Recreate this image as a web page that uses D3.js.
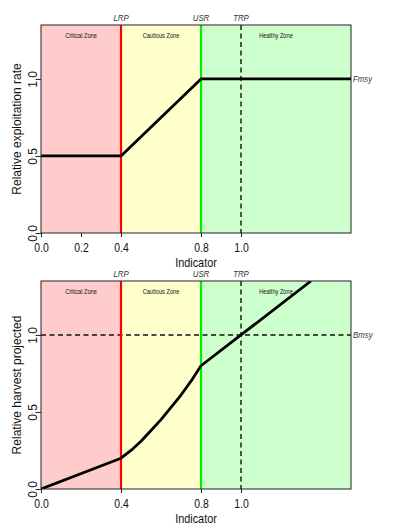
<!DOCTYPE html>
<html>
<head>
<meta charset="utf-8">
<script src="https://cdn.jsdelivr.net/npm/d3@7"></script>
<style>
  body { margin: 0; background: #fff; }
  text { font-family: "Liberation Sans", Arial, sans-serif; }
</style>
</head>
<body>
<script>
// Zones along the indicator axis
const zoneNames = ["Critical Zone", "Cautious Zone", "Healthy Zone"];
const zoneStart = [0, 0.4, 0.8];
const zoneEnd = [0.4, 0.8, 1.55];
const zoneColors = ["#ffcccc", "#ffffcc", "#ccffcc"];

// Reference points
const refNames = ["LRP", "USR", "TRP"];
const refValues = [0.4, 0.8, 1.0];

// Harvest control rule (top panel)
const exploitX = [0, 0.4, 0.8, 1.55];
const exploitY = [0.5, 0.5, 1.0, 1.0];

// Projected harvest (bottom panel)
const harvestX = [0, 0.4, 0.45, 0.5, 0.55, 0.6, 0.65, 0.7, 0.75, 0.8, 1.0, 1.35];
const harvestY = [0, 0.2, 0.25, 0.31, 0.38, 0.45, 0.53, 0.61, 0.7, 0.8, 1.0, 1.35];

// Tick labels
const topXTicks = [0, 0.2, 0.4, 0.8, 1.0];
const bottomXTicks = [0, 0.4, 0.8, 1.0];
const yTicks = [0, 0.5, 1.0];

const width = 413, height = 526;
const svg = d3.select("body").append("svg")
    .attr("width", width)
    .attr("height", height);

const fmt = d3.format(".1f");
const squeeze = 0.87;  // the original's text is a little narrow

function drawPanel(top, opts) {
    const left = 41, right = 351, plotH = 208;
    const x = d3.scaleLinear().domain([0, 1.55]).range([left, right]);
    const y = d3.scaleLinear().domain([0, 1.35]).range([top + plotH, top]);

    const g = svg.append("g");
    const clipId = "clip" + opts.id;
    svg.append("clipPath").attr("id", clipId)
      .append("rect")
        .attr("x", left).attr("y", top)
        .attr("width", right - left).attr("height", plotH);

    // narrow horizontal text placed at (px, py)
    function label(px, py, txt, size, anchor, italic) {
        return g.append("text")
          .attr("transform", `translate(${px},${py}) scale(${squeeze},1)`)
          .attr("text-anchor", anchor)
          .style("font-size", size + "px")
          .style("font-style", italic ? "italic" : "normal")
          .style("fill", italic ? "#333" : "#111")
          .text(txt);
    }

    // zone backgrounds
    g.selectAll(".zone")
      .data(zoneNames)
      .enter().append("rect")
        .attr("x", (d, i) => x(zoneStart[i]))
        .attr("y", top)
        .attr("width", (d, i) => x(zoneEnd[i]) - x(zoneStart[i]))
        .attr("height", plotH)
        .attr("fill", (d, i) => zoneColors[i]);

    // zone labels
    const zoneLabelX = [0.2, 0.6, 1.175];
    zoneNames.forEach((d, i) => label(x(zoneLabelX[i]), top + 13, d, 6.5, "middle", false));

    // horizontal reference (Bmsy) if any
    if (opts.hLine) {
        g.append("line")
          .attr("x1", left).attr("x2", right)
          .attr("y1", y(1)).attr("y2", y(1))
          .attr("stroke", "#111")
          .attr("stroke-width", 1.4)
          .attr("stroke-dasharray", "5,3.5");
    }

    // reference point lines
    const refColors = ["#ff0000", "#00ee00", "#111"];
    g.selectAll(".ref")
      .data(refValues)
      .enter().append("line")
        .attr("x1", d => x(d)).attr("x2", d => x(d))
        .attr("y1", top).attr("y2", top + plotH)
        .attr("stroke", (d, i) => refColors[i])
        .attr("stroke-width", (d, i) => i < 2 ? 2.2 : 1.4)
        .attr("stroke-dasharray", (d, i) => i < 2 ? null : "5,3.5");

    refNames.forEach((d, i) => label(x(refValues[i]), top - 4, d, 9, "middle", true));

    // the curve
    const line = d3.line()
        .x(d => x(d[0]))
        .y(d => y(d[1]));
    g.append("path")
      .datum(opts.xs.map((v, i) => [v, opts.ys[i]]))
      .attr("clip-path", `url(#${clipId})`)
      .attr("d", line)
      .attr("fill", "none")
      .attr("stroke", "#000")
      .attr("stroke-width", 2.8)
      .attr("stroke-linejoin", "round");

    // right-hand label
    label(right + 2, y(1) + 3, opts.rightLabel, 9, "start", true);

    // box
    g.append("rect")
      .attr("x", left).attr("y", top)
      .attr("width", right - left).attr("height", plotH)
      .attr("fill", "none")
      .attr("stroke", "#222")
      .attr("stroke-width", 1);

    // x axis
    const xAxis = g.append("g")
      .attr("transform", `translate(0,${top + plotH})`)
      .call(d3.axisBottom(x).tickValues(opts.xTicks).tickFormat(fmt).tickSize(4).tickPadding(6));
    xAxis.select(".domain").remove();
    xAxis.selectAll("text")
      .attr("transform", `scale(${squeeze},1)`)
      .style("font-family", "Liberation Sans, Arial, sans-serif")
      .style("font-size", "12px")
      .style("fill", "#111");
    xAxis.selectAll("line").attr("stroke", "#222");

    // y axis
    const yAxis = g.append("g")
      .attr("transform", `translate(${left},0)`)
      .call(d3.axisLeft(y).tickValues(yTicks).tickFormat(fmt).tickSize(4));
    yAxis.select(".domain").remove();
    yAxis.selectAll("line").attr("stroke", "#222");
    yAxis.selectAll("text")
      .attr("x", null).attr("dy", null)
      .attr("text-anchor", "middle")
      .attr("transform", "translate(-4,0) rotate(-90)")
      .style("font-family", "Liberation Sans, Arial, sans-serif")
      .style("font-size", "12px")
      .style("fill", "#111");

    // axis titles
    label((left + right) / 2, top + plotH + 34, "Indicator", 12.5, "middle", false);

    g.append("text")
      .attr("transform", `translate(21,${top + plotH / 2}) rotate(-90)`)
      .attr("text-anchor", "middle")
      .style("font-size", "12px")
      .style("fill", "#111")
      .text(opts.yLabel);
}

drawPanel(25, {
    id: "top",
    xs: exploitX, ys: exploitY,
    xTicks: topXTicks,
    yLabel: "Relative exploitation rate",
    rightLabel: "Fmsy",
    hLine: false
});

drawPanel(281, {
    id: "bottom",
    xs: harvestX, ys: harvestY,
    xTicks: bottomXTicks,
    yLabel: "Relative harvest projected",
    rightLabel: "Bmsy",
    hLine: true
});
</script>
</body>
</html>
